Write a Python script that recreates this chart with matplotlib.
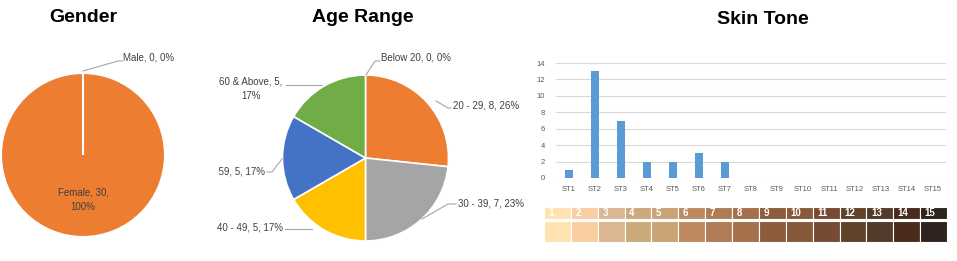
import matplotlib
matplotlib.use("Agg")
import matplotlib.pyplot as plt
import numpy as np

plt.rcParams['font.family'] = ['Liberation Sans', 'DejaVu Sans']

W, H = 957, 261

# gender
gender_labels = ["Female", "Male"]
gender_values = [30, 0]
gender_text = ["Female, 30,\n100%", "Male, 0, 0%"]

# age range
age_labels = ["Below 20", "20 - 29", "30 - 39", "40 - 49", "50 - 59", "60 & Above"]
age_values = [0, 8, 7, 5, 5, 5]
age_text = ["Below 20, 0, 0%", "20 - 29, 8, 26%", "30 - 39, 7, 23%",
            "40 - 49, 5, 17%", "50 - 59, 5, 17%", "60 & Above, 5,\n17%"]
age_colors = ["#5B9BD5", "#ED7D31", "#A5A5A5", "#FFC000", "#4472C4", "#70AD47"]

# skin tone
skin_cats = ["ST%d" % i for i in range(1, 16)]
skin_counts = [1, 13, 7, 2, 2, 3, 2, 0, 0, 0, 0, 0, 0, 0, 0]
swatch_nums = [str(i) for i in range(1, 16)]
swatch_colors = ["#FEE3B0", "#F9CEA3", "#DBB690", "#CBA97A", "#CAA476",
                 "#BE8961", "#B07C56", "#A4714C", "#8E5B3B", "#88583A",
                 "#774B33", "#604229", "#543A2A", "#4B2B1C", "#30221C"]

fig = plt.figure(figsize=(W / 100, H / 100), dpi=100)


def px_axes(left, top, right, bottom):
    return fig.add_axes([left / W, 1 - bottom / H, (right - left) / W, (bottom - top) / H])


def set_px_lims(ax, box, cx, cy, r):
    left, top, right, bottom = box
    ax.set_xlim((left - cx) / r, (right - cx) / r)
    ax.set_ylim((cy - bottom) / r, (cy - top) / r)
    ax.set_aspect("auto")
    ax.axis("off")


def to_data(p, cx, cy, r):
    return ((p[0] - cx) / r, (cy - p[1]) / r)


leader = dict(color="#A6A6A6", lw=0.8)
lab_color = "#404040"
fs = 7

# ---- Gender
cx, cy, r = 83, 155, 82
box = (0, 40, 205, 252)
ax = px_axes(*box)
ax.pie(gender_values, colors=["#ED7D31", "#5B9BD5"], startangle=90, counterclock=False,
       wedgeprops=dict(edgecolor="white", linewidth=1.5))
set_px_lims(ax, box, cx, cy, r)
pts = np.array([to_data(p, cx, cy, r) for p in [(83, 71), (118, 61), (122, 61)]])
ax.plot(pts[:, 0], pts[:, 1], **leader)
x, y = to_data((123, 57), cx, cy, r)
ax.text(x, y, gender_text[1], fontsize=fs, color=lab_color, ha="left", va="center")
x, y = to_data((83, 200), cx, cy, r)
ax.text(x, y, gender_text[0], fontsize=fs, color=lab_color, ha="center", va="center",
        linespacing=1.6)
fig.text(83 / W, 1 - 18 / H, "Gender", fontsize=14, fontweight="bold", ha="center", va="center")

# ---- Age Range
cx, cy, r = 365.5, 158, 83
box = (216, 40, 530, 252)
ax = px_axes(*box)
ax.pie(age_values, colors=age_colors, startangle=90, counterclock=False,
       wedgeprops=dict(edgecolor="white", linewidth=1.2))
set_px_lims(ax, box, cx, cy, r)

lines = [
    [(366, 75), (375, 61), (380, 61)],
    [(436, 101), (448, 108), (451, 108)],
    [(422, 219), (448, 204), (456, 204)],
    [(285, 229), (312, 229)],
    [(267, 172), (272, 172), (282, 159)],
    [(286, 85), (322, 85)],
]
for seg in lines:
    pts = np.array([to_data(p, cx, cy, r) for p in seg])
    ax.plot(pts[:, 0], pts[:, 1], **leader)

spots = [((381, 58), "left"), ((453, 105), "left"), ((458, 203), "left"),
         ((283, 228), "right"), ((265, 171), "right"), ((251, 89), "center")]
for (p, ha), txt in zip(spots, age_text):
    x, y = to_data(p, cx, cy, r)
    t = ax.text(x, y, txt, fontsize=fs, color=lab_color, ha=ha, va="center",
                multialignment="center", linespacing=1.6)
    # the 50 - 59 label runs past the chart's left edge
    t.set_clip_on(txt.startswith("50"))
fig.text(363 / W, 1 - 18 / H, "Age Range", fontsize=14, fontweight="bold", ha="center", va="center")

# ---- Skin Tone bars
ax = px_axes(556, 63, 946, 178)
xs = np.arange(len(skin_cats))
ax.bar(xs, skin_counts, width=0.31, color="#5B9BD5", zorder=3)
ax.set_xlim(-0.5, len(skin_cats) - 0.5)
ax.set_ylim(0, 14)
ax.set_yticks(range(0, 15, 2))
ax.set_xticks(xs)
ax.set_xticklabels(skin_cats)
ax.grid(axis="y", color="#D9D9D9", lw=0.8, zorder=0)
for s in ax.spines.values():
    s.set_visible(False)
ax.tick_params(length=0, labelsize=5.5, labelcolor="#595959", pad=6)
ax.tick_params(axis="y", pad=8)
fig.text(763 / W, 1 - 20 / H, "Skin Tone", fontsize=14, fontweight="bold", ha="center", va="center")

# ---- swatches
ax = px_axes(544, 207, 947, 242)
idx = np.arange(len(swatch_colors))
ax.bar(idx, [12] * 15, bottom=23, width=1.0, align="edge", color=swatch_colors,
       edgecolor="white", linewidth=0.8)
ax.bar(idx, [21] * 15, bottom=0, width=1.0, align="edge", color=swatch_colors,
       edgecolor="white", linewidth=0.8)
for i, n in zip(idx, swatch_nums):
    ax.text(i + 0.17, 29, n, fontsize=7, fontweight="bold", color="white",
            ha="left", va="center")
ax.set_xlim(0, 15)
ax.set_ylim(0, 35)
ax.axis("off")

fig.savefig("out.png", dpi=100)
